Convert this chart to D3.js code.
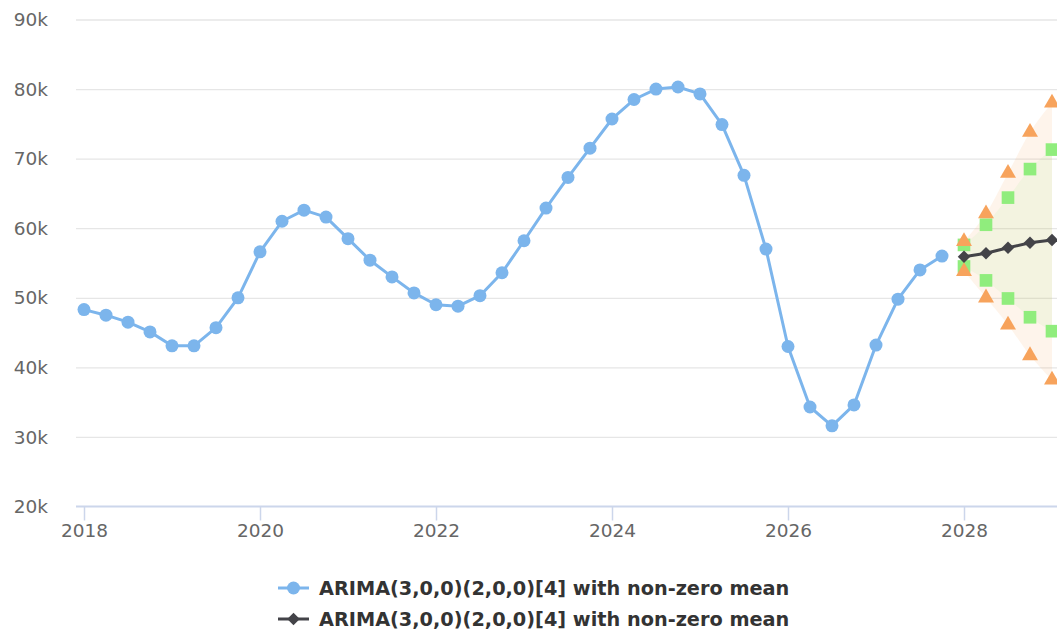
<!DOCTYPE html>
<html>
<head>
<meta charset="utf-8">
<script src="https://cdn.jsdelivr.net/npm/d3@7"></script>
<style>
  body { margin: 0; background: #fff; }
  svg { display: block; font-family: "DejaVu Sans", Verdana, sans-serif; }
</style>
</head>
<body>
<svg id="chart" width="1057" height="631"></svg>
<script>
// quarterly history
const histPeriods = [
  2018.00, 2018.25, 2018.50, 2018.75, 2019.00, 2019.25, 2019.50, 2019.75,
  2020.00, 2020.25, 2020.50, 2020.75, 2021.00, 2021.25, 2021.50, 2021.75,
  2022.00, 2022.25, 2022.50, 2022.75, 2023.00, 2023.25, 2023.50, 2023.75,
  2024.00, 2024.25, 2024.50, 2024.75, 2025.00, 2025.25, 2025.50, 2025.75,
  2026.00, 2026.25, 2026.50, 2026.75, 2027.00, 2027.25, 2027.50, 2027.75
];
const histValues = [
  48300, 47500, 46500, 45100, 43100, 43100, 45700, 50000,
  56600, 61000, 62600, 61600, 58500, 55400, 53000, 50700,
  49000, 48800, 50300, 53600, 58200, 62900, 67300, 71500,
  75700, 78500, 80000, 80300, 79300, 74900, 67600, 57000,
  43000, 34300, 31600, 34600, 43200, 49800, 54000, 56000
];

// forecast
const fcPeriods = [2028.00, 2028.25, 2028.50, 2028.75, 2029.00];
const fcMean = [55900, 56400, 57200, 57900, 58300];
const lo80 = [54500, 52500, 49900, 47200, 45200];
const hi80 = [57600, 60500, 64400, 68500, 71300];
const lo95 = [53800, 50000, 46100, 41700, 38200];
const hi95 = [58100, 62100, 67900, 73800, 78000];

const yTicks = [20000, 30000, 40000, 50000, 60000, 70000, 80000, 90000];
const xTicks = [2018, 2020, 2022, 2024, 2026, 2028];
const seriesNames = [
  "ARIMA(3,0,0)(2,0,0)[4] with non-zero mean",
  "ARIMA(3,0,0)(2,0,0)[4] with non-zero mean"
];

const plotLeft = 76, plotRight = 1057, plotTop = 19.5, plotBottom = 506.5;

const svg = d3.select("#chart");

const x = d3.scaleLinear().domain([2018, 2028]).range([84, 964]);
const y = d3.scaleLinear().domain([20000, 90000]).range([plotBottom, plotTop]);

// gridlines
svg.append("g")
  .attr("transform", `translate(${plotLeft},0)`)
  .call(d3.axisLeft(y).tickValues(yTicks.slice(1)).tickSize(-(plotRight - plotLeft)).tickFormat(""))
  .call(g => g.select(".domain").remove())
  .call(g => g.selectAll("line").attr("stroke", "#e6e6e6").attr("stroke-width", 1.3));

// y labels
svg.append("g")
  .selectAll("text")
  .data(yTicks)
  .join("text")
    .attr("x", 48)
    .attr("y", d => y(d))
    .attr("dy", "0.36em")
    .attr("text-anchor", "end")
    .attr("fill", "#666")
    .attr("font-size", 18.5)
    .text(d => d / 1000 + "k");

// x axis
const xAxis = svg.append("g")
  .attr("transform", `translate(0,${plotBottom})`)
  .call(d3.axisBottom(x).tickValues(xTicks).tickFormat(d3.format("d")).tickSize(14).tickPadding(3));
xAxis.select(".domain")
  .attr("d", `M${plotLeft},0H${plotRight}`)
  .attr("stroke", "#ccd6eb").attr("stroke-width", 2);
xAxis.selectAll(".tick line").attr("stroke", "#ccd6eb").attr("stroke-width", 1.5);
xAxis.selectAll(".tick text")
  .attr("fill", "#666").attr("font-size", 18.5)
  .attr("font-family", "DejaVu Sans, Verdana, sans-serif");

const plot = svg.append("g");

// ranges
const fc = fcPeriods.map((p, i) => ({p, mean: fcMean[i], lo80: lo80[i], hi80: hi80[i], lo95: lo95[i], hi95: hi95[i]}));

const band = (lo, hi) => d3.area()
  .x(d => x(d.p))
  .y0(d => y(d[lo]))
  .y1(d => y(d[hi]))
  .curve(d3.curveMonotoneX);

plot.append("path").datum(fc)
  .attr("d", band("lo95", "hi95"))
  .attr("fill", "#f7a35c").attr("fill-opacity", 0.12);
plot.append("path").datum(fc)
  .attr("d", band("lo80", "hi80"))
  .attr("fill", "#90ed7d").attr("fill-opacity", 0.1);

// history line
const hist = histPeriods.map((p, i) => ({p, v: histValues[i]}));
const line = d3.line().x(d => x(d.p)).y(d => y(d.v));

plot.append("path").datum(hist)
  .attr("d", line)
  .attr("fill", "none")
  .attr("stroke", "#7cb5ec")
  .attr("stroke-width", 3)
  .attr("stroke-linejoin", "round");
plot.append("g").selectAll("circle")
  .data(hist)
  .join("circle")
    .attr("cx", d => x(d.p))
    .attr("cy", d => y(d.v))
    .attr("r", 6.5)
    .attr("fill", "#7cb5ec");

// interval markers
const square = d3.symbol().type(d3.symbolSquare).size(160);
const triangle = d3.symbol().type(d3.symbolTriangle).size(110);

plot.append("g").selectAll("path")
  .data(fc.flatMap(d => [{p: d.p, v: d.lo80}, {p: d.p, v: d.hi80}]))
  .join("path")
    .attr("d", square)
    .attr("transform", d => `translate(${x(d.p)},${y(d.v)})`)
    .attr("fill", "#90ed7d");

plot.append("g").selectAll("path")
  .data(fc.flatMap(d => [{p: d.p, v: d.lo95}, {p: d.p, v: d.hi95}]))
  .join("path")
    .attr("d", triangle)
    .attr("transform", d => `translate(${x(d.p)},${y(d.v)})`)
    .attr("fill", "#f7a35c");

// forecast mean, diamonds as rotated squares
const diamond = d3.symbol().type(d3.symbolSquare).size(78);
plot.append("path").datum(fc)
  .attr("d", d3.line().x(d => x(d.p)).y(d => y(d.mean)))
  .attr("fill", "none")
  .attr("stroke", "#434348")
  .attr("stroke-width", 3);
plot.append("g").selectAll("path")
  .data(fc)
  .join("path")
    .attr("d", diamond)
    .attr("transform", d => `translate(${x(d.p)},${y(d.mean)}) rotate(45)`)
    .attr("fill", "#434348");

// legend
const legendColors = ["#7cb5ec", "#434348"];
const legend = svg.append("g")
  .selectAll("g")
  .data(seriesNames)
  .join("g")
    .attr("transform", (d, i) => `translate(278,${588 + i * 31})`);

legend.append("line")
  .attr("x1", 0).attr("x2", 31)
  .attr("stroke", (d, i) => legendColors[i])
  .attr("stroke-width", 3);
legend.filter((d, i) => i === 0).append("circle")
  .attr("cx", 15.5).attr("r", 6.5).attr("fill", legendColors[0]);
legend.filter((d, i) => i === 1).append("path")
  .attr("d", diamond)
  .attr("transform", "translate(15.5,0) rotate(45)")
  .attr("fill", legendColors[1]);
legend.append("text")
  .attr("x", 41)
  .attr("dy", "0.36em")
  .attr("fill", "#333")
  .attr("font-size", 19.3)
  .attr("font-weight", "bold")
  .text(d => d);
</script>
</body>
</html>
